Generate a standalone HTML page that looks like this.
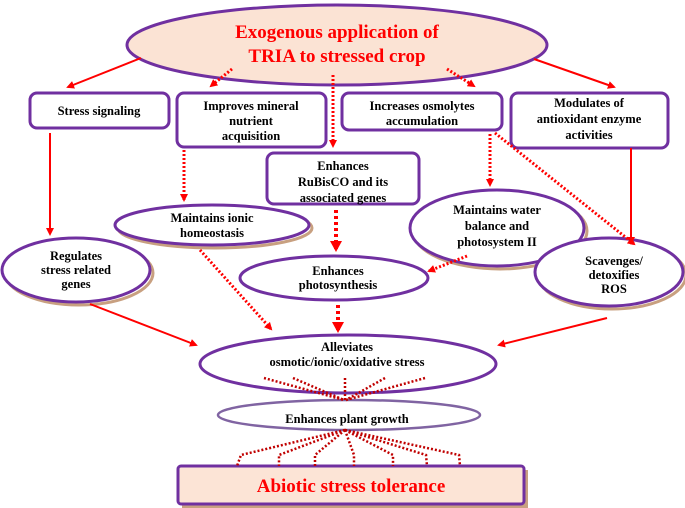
<!DOCTYPE html>
<html><head><meta charset="utf-8"><style>
html,body{margin:0;padding:0;background:#fff}
svg{display:block}
text{font-family:"Liberation Serif",serif;font-weight:bold;text-anchor:middle}
.t{font-size:12.5px;fill:#000}
.big{font-size:19px;fill:#ff0000}
</style></head><body>
<svg width="685" height="508" viewBox="0 0 685 508" xmlns="http://www.w3.org/2000/svg">
<defs>
<marker id="a" markerWidth="8" markerHeight="8" refX="6" refY="4" orient="auto" markerUnits="userSpaceOnUse"><path d="M0,0 L8,4 L0,8 z" fill="#ff0000"/></marker>
<marker id="b" markerWidth="12" markerHeight="12" refX="8" refY="6" orient="auto" markerUnits="userSpaceOnUse"><path d="M0,0 L11,6 L0,12 z" fill="#ff0000"/></marker>
</defs>
<g fill="none" stroke="#c8a080" stroke-width="3">
<ellipse cx="215" cy="228" rx="97" ry="20"/>
<ellipse cx="500" cy="231" rx="87" ry="38"/>
<ellipse cx="79" cy="273" rx="74" ry="32"/>
<ellipse cx="612" cy="275" rx="74" ry="34"/>
</g>
<rect x="182" y="470" width="346" height="38" fill="#c8a080"/>
<ellipse cx="337" cy="45" rx="210" ry="40" fill="#fbe3d4" stroke="#7030a0" stroke-width="3"/>
<text class="big" x="337" y="38">Exogenous application of</text>
<text class="big" x="337" y="62">TRIA to stressed crop</text>
<g fill="#fff" stroke="#7030a0" stroke-width="3">
<rect x="30" y="93" width="139" height="35" rx="7"/>
<rect x="177" y="93" width="149" height="54" rx="7"/>
<rect x="342" y="93" width="160" height="37" rx="7"/>
<rect x="511" y="93" width="157" height="55" rx="7"/>
<rect x="267" y="153" width="152" height="51" rx="7"/>
<ellipse cx="212" cy="225" rx="97" ry="20"/>
<ellipse cx="497" cy="228" rx="87" ry="38"/>
<ellipse cx="76" cy="270" rx="74" ry="32"/>
<ellipse cx="334" cy="278" rx="94" ry="22"/>
<ellipse cx="609" cy="272" rx="74" ry="34"/>
<ellipse cx="348" cy="364" rx="148" ry="29"/>
</g>
<ellipse cx="349" cy="415" rx="131" ry="15" fill="#fff" stroke="#8064a2" stroke-width="2.5"/>
<rect x="178" y="466" width="346" height="38" rx="3" fill="#fce4d6" stroke="#7030a0" stroke-width="3"/>
<text class="big" x="351" y="492">Abiotic stress tolerance</text>
<g class="t">
<text class="t" x="99" y="115">Stress signaling</text>
<text class="t" x="251" y="110">Improves mineral</text><text class="t" x="251" y="125">nutrient</text><text class="t" x="251" y="140">acquisition</text>
<text class="t" x="422" y="110">Increases osmolytes</text><text class="t" x="422" y="125">accumulation</text>
<text class="t" x="589" y="107">Modulates of</text><text class="t" x="589" y="123">antioxidant enzyme</text><text class="t" x="589" y="139">activities</text>
<text class="t" x="343" y="170">Enhances</text><text class="t" x="343" y="186">RuBisCO and its</text><text class="t" x="343" y="202">associated genes</text>
<text class="t" x="212" y="222">Maintains ionic</text><text class="t" x="212" y="237">homeostasis</text>
<text class="t" x="497" y="214">Maintains water</text><text class="t" x="497" y="230">balance and</text><text class="t" x="497" y="246">photosystem II</text>
<text class="t" x="76" y="260">Regulates</text><text class="t" x="76" y="274">stress related</text><text class="t" x="76" y="288">genes</text>
<text class="t" x="338" y="275">Enhances</text><text class="t" x="338" y="289">photosynthesis</text>
<text class="t" x="614" y="265">Scavenges/</text><text class="t" x="614" y="279">detoxifies</text><text class="t" x="614" y="293">ROS</text>
<text class="t" x="347" y="351">Alleviates</text><text class="t" x="347" y="366">osmotic/ionic/oxidative stress</text>
<text class="t" x="347" y="423">Enhances plant growth</text>
</g>
<g stroke="#ff0000" stroke-width="2" fill="none" marker-end="url(#a)">
<line x1="141" y1="58" x2="68" y2="87"/>
<line x1="534" y1="59" x2="614" y2="87"/>
<line x1="50" y1="133" x2="50" y2="234"/>
<line x1="631" y1="148" x2="631" y2="243"/>
<line x1="90" y1="304" x2="196" y2="345"/>
<line x1="607" y1="318" x2="499" y2="345"/>
</g>
<g stroke="#ff0000" stroke-width="3" stroke-dasharray="2 2" fill="none" marker-end="url(#a)">
<line x1="232" y1="69" x2="211" y2="86"/>
<line x1="333" y1="75" x2="333" y2="146"/>
<line x1="447" y1="69" x2="474" y2="86"/>
<line x1="184" y1="150" x2="184" y2="200"/>
<line x1="490" y1="134" x2="490" y2="185"/>
<line x1="495" y1="133" x2="634" y2="244"/>
<line x1="200" y1="250" x2="271" y2="329"/>
<line x1="467" y1="256" x2="429" y2="271"/>
</g>
<g stroke="#ff0000" stroke-width="4" stroke-dasharray="3 3" fill="none" marker-end="url(#b)">
<line x1="336" y1="210" x2="336" y2="249"/>
<line x1="338" y1="305" x2="338" y2="330"/>
</g>
<g stroke="#c00000" stroke-width="2.5" stroke-dasharray="2 2" fill="none">
<line x1="264" y1="378" x2="344" y2="400"/>
<line x1="293" y1="378" x2="344" y2="400"/>
<line x1="345" y1="378" x2="345" y2="400"/>
<line x1="385" y1="378" x2="346" y2="400"/>
<line x1="425" y1="378" x2="346" y2="400"/>
<polyline points="345,430 241,455 237,466"/>
<polyline points="345,430 279,455 279,466"/>
<polyline points="345,430 315,455 315,466"/>
<polyline points="345,430 354,455 354,466"/>
<polyline points="345,430 393,455 393,466"/>
<polyline points="345,430 426,455 427,466"/>
<polyline points="345,430 459,455 460,466"/>
</g>
</svg>
</body></html>
